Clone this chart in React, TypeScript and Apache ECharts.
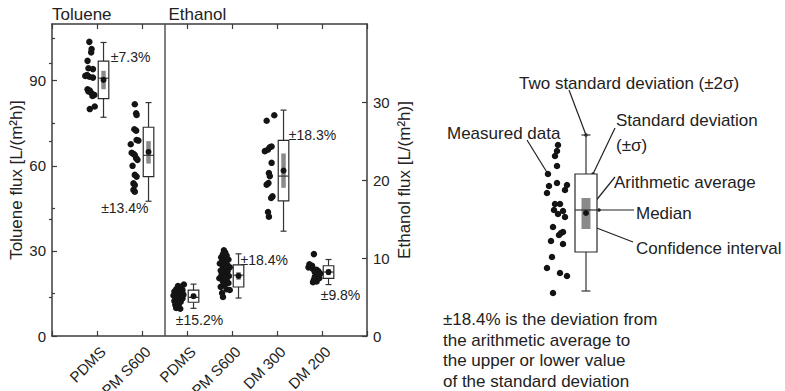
import React, { useEffect, useRef } from "react";
import * as echarts from "echarts";

// ---------- categories & axes ----------
const CATEGORIES = ["PDMS", "PM S600", "PDMS", "PM S600", "DM 300", "DM 200"];
const CATEGORY_POS = [1, 2, 3, 4, 5, 6];
const PANEL_DIVIDER = 2.5;
const PANEL_TITLES = ["Toluene", "Ethanol"];
const LEFT_TICKS = [0, 30, 60, 90];
const LEFT_MINOR = [15, 45, 75, 105];
const RIGHT_TICKS = [0, 10, 20, 30];
const RIGHT_MINOR = [5, 15, 25, 35];
const LEFT_NAME = "Toluene flux [L/(m²h)]";
const RIGHT_NAME = "Ethanol flux [L/(m²h)]";

// ---------- measured data (value, jitter offset from category) ----------
const TOL_PDMS = [103.7, 101.2, 100.0, 97.0, 94.4, 94.1, 91.7, 91.4, 91.1, 92.0, 87.0, 86.5, 86.2, 85.6, 85.0, 84.6, 80.9, 80.0];
const TOL_PDMS_JIT = [-0.17, -0.12, -0.13, -0.21, -0.19, -0.09, -0.26, -0.17, -0.09, -0.22, -0.21, -0.16, -0.19, -0.12, -0.06, -0.1, -0.05, -0.16];
const TOL_S600 = [81.7, 78.5, 77.9, 72.9, 72.4, 69.1, 68.9, 67.6, 64.6, 64.2, 63.8, 62.7, 62.1, 60.0, 56.8, 56.2, 53.8, 53.2, 51.5, 50.9];
const TOL_S600_JIT = [-0.16, -0.13, -0.12, -0.17, -0.13, -0.12, -0.08, -0.25, -0.23, -0.19, -0.16, -0.13, -0.1, -0.21, -0.16, -0.12, -0.19, -0.16, -0.19, -0.16];
const ETH_PDMS = [6.6, 6.4, 6.3, 6.0, 5.9, 5.7, 5.6, 5.4, 5.3, 5.2, 5.1, 4.9, 4.8, 4.7, 4.5, 4.4, 4.3, 4.1, 4.0, 3.8, 3.6, 3.5];
const ETH_PDMS_JIT = [-0.07, -0.2, -0.13, -0.24, -0.1, -0.28, -0.17, -0.22, -0.08, -0.3, -0.15, -0.25, -0.1, -0.2, -0.28, -0.14, -0.22, -0.18, -0.26, -0.2, -0.24, -0.15];
const ETH_S600 = [11.0, 10.7, 10.5, 10.3, 10.1, 9.9, 9.8, 9.6, 9.4, 9.3, 9.1, 8.9, 8.8, 8.6, 8.4, 8.3, 8.2, 8.0, 7.9, 7.7, 7.5, 7.4, 7.2, 7.0, 6.8, 6.5, 6.3, 6.0, 5.9, 5.5, 5.0];
const ETH_S600_JIT = [-0.18, -0.15, -0.2, -0.12, -0.24, -0.16, -0.08, -0.22, -0.14, -0.27, -0.1, -0.2, -0.05, -0.16, -0.25, -0.1, -0.19, -0.13, -0.23, -0.07, -0.17, -0.28, -0.12, -0.2, -0.08, -0.18, -0.25, -0.12, -0.05, -0.22, -0.2];
const ETH_DM300 = [28.3, 27.6, 24.3, 24.2, 23.9, 23.7, 22.2, 20.9, 20.5, 19.6, 19.4, 17.9, 17.7, 15.9, 15.3];
const ETH_DM300_JIT = [-0.06, -0.23, -0.12, -0.16, -0.2, -0.27, -0.12, -0.18, -0.16, -0.19, -0.23, -0.1, -0.13, -0.2, -0.18];
const ETH_DM200 = [10.5, 9.2, 9.0, 8.8, 8.6, 8.5, 8.3, 8.2, 8.0, 7.8, 7.6, 7.4, 7.2, 7.0, 6.9];
const ETH_DM200_JIT = [-0.18, -0.28, -0.22, -0.3, -0.2, -0.12, -0.08, -0.16, -0.04, -0.1, -0.16, -0.06, -0.18, -0.12, -0.2];

// ---------- box statistics ----------
const BOX_POS = [1, 2, 3, 4, 5, 6];
const BOX_AXIS = [0, 0, 1, 1, 1, 1];
const BOX_MEAN = [90.3, 64.9, 5.1, 7.7, 21.2, 8.2];
const BOX_DEV_PCT = [7.3, 13.4, 15.2, 18.4, 18.3, 9.8];
const BOX_MEDIAN = [90.9, 63.7, 4.95, 7.8, 20.5, 8.2];
const BOX_CI_LOW = [87.0, 60.8, 4.8, 7.2, 19.0, 7.8];
const BOX_CI_HIGH = [93.5, 68.7, 5.4, 8.2, 23.4, 8.6];

// ---------- legend schematic ----------
const DEMO_X = [38, 37, 35, 37, 28, 37, 29, 27, 47, 45, 35, 40, 34, 43, 38, 45, 33, 43, 41, 39, 31, 43, 32, 27, 40, 47, 33];
const DEMO_Y = [155, 149, 144, 134, 126, 117, 114, 107, 115, 110, 96, 96, 90, 89, 86, 83, 73, 68, 67, 65, 59, 56, 43, 32, 27, 24, 7];
const DEMO_POS = 66;
const DEMO_MEAN = 87;
const DEMO_SD = 39;
const DEMO_MEDIAN = 90;
const DEMO_CI_LOW = 71;
const DEMO_CI_HIGH = 102;
const DEMO_NOTE = "±18.4% is the deviation from\nthe arithmetic average to\nthe upper or lower value\nof the standard deviation";

const FONT = '"Liberation Sans", Arial, Helvetica, sans-serif';
const TEXT = "#222";
const AXIS = "#3c3c3c";
const DOT = "#141414";

function pts(vals: number[], jit: number[], pos: number) {
  return vals.map((v, i) => [pos + jit[i], v]);
}

function makeRender(offset: number, boxW: number, ciW: number, capHalf: number) {
  return (params: any, api: any) => {
    const x = api.value(0) + offset;
    const mean = api.value(1);
    const sd = api.value(2);
    const med = api.value(3);
    const lo = api.value(4);
    const hi = api.value(5);
    const pMean = api.coord([x, mean]);
    const cx = pMean[0];
    const half = api.coord([x + boxW / 2, mean])[0] - cx;
    const yTop = api.coord([x, mean + sd])[1];
    const yBot = api.coord([x, mean - sd])[1];
    const yWT = api.coord([x, mean + 2 * sd])[1];
    const yWB = api.coord([x, mean - 2 * sd])[1];
    const yMed = api.coord([x, med])[1];
    const yHi = api.coord([x, hi])[1];
    const yLo = api.coord([x, lo])[1];
    const ls = { stroke: "#333", lineWidth: 1.2 };
    return {
      type: "group",
      children: [
        { type: "line", shape: { x1: cx, y1: yWT, x2: cx, y2: yTop }, style: ls },
        { type: "line", shape: { x1: cx, y1: yBot, x2: cx, y2: yWB }, style: ls },
        { type: "line", shape: { x1: cx - capHalf, y1: yWT, x2: cx + capHalf, y2: yWT }, style: ls },
        { type: "line", shape: { x1: cx - capHalf, y1: yWB, x2: cx + capHalf, y2: yWB }, style: ls },
        { type: "rect", shape: { x: cx - half, y: yTop, width: 2 * half, height: yBot - yTop }, style: { fill: "#fff", stroke: "#2a2a2a", lineWidth: 1.2 } },
        { type: "rect", shape: { x: cx - ciW / 2, y: yHi, width: ciW, height: yLo - yHi }, style: { fill: "#8a8a8a" } },
        { type: "line", shape: { x1: cx - half, y1: yMed, x2: cx + half, y2: yMed }, style: ls },
        { type: "circle", shape: { cx, cy: pMean[1], r: 3 }, style: { fill: DOT } },
      ],
    };
  };
}

function boxRow(i: number) {
  const m = BOX_MEAN[i];
  return [BOX_POS[i], m, (m * BOX_DEV_PCT[i]) / 100, BOX_MEDIAN[i], BOX_CI_LOW[i], BOX_CI_HIGH[i]];
}

const BOX_OFF = 0.145;
const BOX_W = 0.235;
const LABEL_SHIFT = 0.13;

export default function App() {
  const ref = useRef<HTMLDivElement>(null);
  useEffect(() => {
    if (!ref.current) return;
    const chart = echarts.init(ref.current, null, { renderer: "svg" });
    const axisLine = { show: true, onZero: false, lineStyle: { color: AXIS, width: 1.5 } };
    const tickStyle = { color: AXIS, width: 1.2 };
    const tolData = [0, 1].map(boxRow);
    const ethData = [2, 3, 4, 5].map(boxRow);
    const option: any = {
      animation: false,
      backgroundColor: "#fff",
      textStyle: { fontFamily: FONT },
      grid: [
        { left: 52, top: 24, width: 315, height: 312, show: false, outerBoundsMode: "none", containLabel: false },
        { left: 520, top: 120, width: 100, height: 180, show: false, outerBoundsMode: "none", containLabel: false },
      ],
      xAxis: [
        {
          gridIndex: 0, type: "value", position: "bottom", min: 0, max: 7, interval: 1,
          splitLine: { show: false }, axisLine,
          axisTick: { inside: true, length: 5, lineStyle: tickStyle },
          axisLabel: { show: false },
        },
        {
          gridIndex: 0, type: "value", position: "top", min: 0, max: 7, interval: 1,
          splitLine: { show: false }, axisLine,
          axisTick: { inside: true, length: 5, lineStyle: tickStyle },
          axisLabel: { show: false },
        },
        { gridIndex: 1, type: "value", min: 0, max: 100, show: false },
        {
          gridIndex: 0, type: "value", position: "bottom", min: -LABEL_SHIFT, max: 7 - LABEL_SHIFT,
          splitLine: { show: false }, axisLine: { show: false }, axisTick: { show: false },
          axisLabel: {
            rotate: 45, fontSize: 15, color: TEXT, margin: 13, fontFamily: FONT,
            customValues: CATEGORY_POS,
            formatter: (v: number) => {
              const i = CATEGORY_POS.indexOf(Math.round(v));
              return i >= 0 ? CATEGORIES[i] : "";
            },
          },
        },
      ],
      yAxis: [
        {
          gridIndex: 0, type: "value", position: "left", min: 0, max: 110, interval: 30,
          name: LEFT_NAME, nameLocation: "middle", nameGap: 26,
          nameTextStyle: { fontSize: 17, color: TEXT, fontFamily: FONT },
          splitLine: { show: false }, axisLine,
          axisTick: { inside: true, length: 5, lineStyle: tickStyle, customValues: LEFT_TICKS },
          axisLabel: { fontSize: 15, color: TEXT, margin: 6, customValues: LEFT_TICKS, fontFamily: FONT },
        },
        {
          gridIndex: 0, type: "value", position: "right", min: 0, max: 40, interval: 10,
          name: RIGHT_NAME, nameLocation: "middle", nameGap: 29,
          nameTextStyle: { fontSize: 17, color: TEXT, fontFamily: FONT },
          splitLine: { show: false }, axisLine,
          axisTick: { inside: true, length: 5, lineStyle: tickStyle, customValues: RIGHT_TICKS },
          axisLabel: { fontSize: 15, color: TEXT, margin: 6, customValues: RIGHT_TICKS, fontFamily: FONT },
        },
        { gridIndex: 1, type: "value", min: 0, max: 180, show: false },
        {
          gridIndex: 0, type: "value", position: "left", min: 0, max: 110,
          splitLine: { show: false }, axisLine: { show: false }, axisLabel: { show: false },
          axisTick: { inside: true, length: 3, lineStyle: tickStyle, customValues: LEFT_MINOR },
        },
        {
          gridIndex: 0, type: "value", position: "right", min: 0, max: 40,
          splitLine: { show: false }, axisLine: { show: false }, axisLabel: { show: false },
          axisTick: { inside: true, length: 3, lineStyle: tickStyle, customValues: RIGHT_MINOR },
        },
      ],
      series: [
        {
          type: "scatter", xAxisIndex: 0, yAxisIndex: 0, symbolSize: 6.5, itemStyle: { color: DOT, opacity: 1 }, silent: true,
          data: [...pts(TOL_PDMS, TOL_PDMS_JIT, CATEGORY_POS[0]), ...pts(TOL_S600, TOL_S600_JIT, CATEGORY_POS[1])],
        },
        {
          type: "scatter", xAxisIndex: 0, yAxisIndex: 1, symbolSize: 6.5, itemStyle: { color: DOT, opacity: 1 }, silent: true,
          data: [
            ...pts(ETH_PDMS, ETH_PDMS_JIT, CATEGORY_POS[2]),
            ...pts(ETH_S600, ETH_S600_JIT, CATEGORY_POS[3]),
            ...pts(ETH_DM300, ETH_DM300_JIT, CATEGORY_POS[4]),
            ...pts(ETH_DM200, ETH_DM200_JIT, CATEGORY_POS[5]),
          ],
        },
        {
          type: "custom", xAxisIndex: 0, yAxisIndex: 0, renderItem: makeRender(BOX_OFF, BOX_W, 4.5, 3),
          encode: { x: 0, y: 1 }, data: tolData, clip: false, silent: true,
        },
        {
          type: "custom", xAxisIndex: 0, yAxisIndex: 1, renderItem: makeRender(BOX_OFF, BOX_W, 4.5, 3),
          encode: { x: 0, y: 1 }, data: ethData, clip: false, silent: true,
          markLine: {
            silent: true, symbol: "none", label: { show: false },
            lineStyle: { color: "#555", width: 1.5, type: "solid" },
            data: [{ xAxis: PANEL_DIVIDER }],
          },
        },
        {
          type: "scatter", xAxisIndex: 2, yAxisIndex: 2, symbolSize: 6.5, itemStyle: { color: DOT, opacity: 1 }, silent: true,
          data: DEMO_X.map((x, i) => [x, DEMO_Y[i]]),
        },
        {
          type: "custom", xAxisIndex: 2, yAxisIndex: 2, renderItem: makeRender(0, 22, 9, 4.5),
          encode: { x: 0, y: 1 }, clip: false, silent: true,
          data: [[DEMO_POS, DEMO_MEAN, DEMO_SD, DEMO_MEDIAN, DEMO_CI_LOW, DEMO_CI_HIGH]],
        },
      ],
    };
    chart.setOption(option);

    const toPx = (series: number, pt: number[]) => chart.convertToPixel({ seriesIndex: series }, pt) as unknown as number[];
    const txt = (text: string, x: number, y: number, size: number, align = "left", vAlign = "middle", extra: any = {}) => ({
      type: "text", x, y, silent: true,
      style: { text, fontSize: size, fontFamily: FONT, fill: TEXT, align, verticalAlign: vAlign, ...extra },
    });
    const seg = (a: number[], b: number[]) => ({
      type: "line", silent: true, shape: { x1: a[0], y1: a[1], x2: b[0], y2: b[1] }, style: { stroke: "#222", lineWidth: 1.2 },
    });
    const dot = (p: number[]) => ({ type: "circle", silent: true, shape: { cx: p[0], cy: p[1], r: 1.8 }, style: { fill: "#222" } });

    const graphics: any[] = [];
    const gl = toPx(2, [0, 110]);
    const gd = toPx(2, [PANEL_DIVIDER, 110]);
    graphics.push(txt(PANEL_TITLES[0], gl[0], gl[1] - 10, 17));
    graphics.push(txt(PANEL_TITLES[1], gd[0] + 4, gd[1] - 10, 17));

    const layouts = [
      { ref: "boxTopRight", dx: 2, dy: -4, align: "left" },
      { ref: "whiskerBottom", dx: 0, dy: 7, align: "right" },
      { ref: "whiskerBottom", dx: 6, dy: 12, align: "center" },
      { ref: "whiskerTop", dx: 2, dy: 6, align: "left" },
      { ref: "boxTopRight", dx: 0, dy: -5, align: "left" },
      { ref: "whiskerBottom", dx: 12, dy: 10, align: "center" },
    ];
    BOX_POS.forEach((pos, i) => {
      const s = BOX_AXIS[i] === 0 ? 2 : 3;
      const m = BOX_MEAN[i];
      const sd = (m * BOX_DEV_PCT[i]) / 100;
      const L = layouts[i];
      let p: number[];
      if (L.ref === "boxTopRight") p = toPx(s, [pos + BOX_OFF + BOX_W / 2, m + sd]);
      else if (L.ref === "whiskerTop") p = toPx(s, [pos + BOX_OFF, m + 2 * sd]);
      else p = toPx(s, [pos + BOX_OFF, m - 2 * sd]);
      graphics.push(txt(`±${BOX_DEV_PCT[i]}%`, p[0] + L.dx, p[1] + L.dy, 14, L.align));
    });

    const wTop = toPx(5, [DEMO_POS, DEMO_MEAN + 2 * DEMO_SD]);
    graphics.push(txt("Two standard deviation (±2σ)", 519, 83, 17));
    graphics.push(seg([569, 90], wTop), dot(wTop));
    const measured = toPx(4, [DEMO_X[4], DEMO_Y[4]]);
    graphics.push(txt("Measured data", 447, 133, 17));
    graphics.push(seg([527, 140], measured));
    const sdPt = toPx(5, [DEMO_POS + 7, DEMO_MEAN + DEMO_SD]);
    graphics.push(txt("Standard deviation", 616, 120, 17));
    graphics.push(txt("(±σ)", 616, 145, 17));
    graphics.push(seg([615, 128], sdPt), dot(sdPt));
    const meanPt = toPx(5, [DEMO_POS, DEMO_MEAN]);
    graphics.push(txt("Arithmetic average", 614, 182, 17));
    graphics.push(seg([615, 177], meanPt));
    const medPt = toPx(5, [DEMO_POS + 13, DEMO_MEDIAN]);
    graphics.push(txt("Median", 636, 213, 17));
    graphics.push(seg(medPt, [634, medPt[1]]), dot(medPt));
    const ciPt = toPx(5, [DEMO_POS + 3, DEMO_CI_LOW + 4]);
    graphics.push(txt("Confidence interval", 636, 248, 17));
    graphics.push(seg(ciPt, [633, 242]), dot(ciPt));
    graphics.push(txt(DEMO_NOTE, 443, 309, 17, "left", "top", { lineHeight: 20.7 }));

    chart.setOption({ graphic: graphics });
    return () => chart.dispose();
  }, []);
  return <div ref={ref} style={{ position: "absolute", left: 0, top: 0, width: 785, height: 391 }} />;
}
